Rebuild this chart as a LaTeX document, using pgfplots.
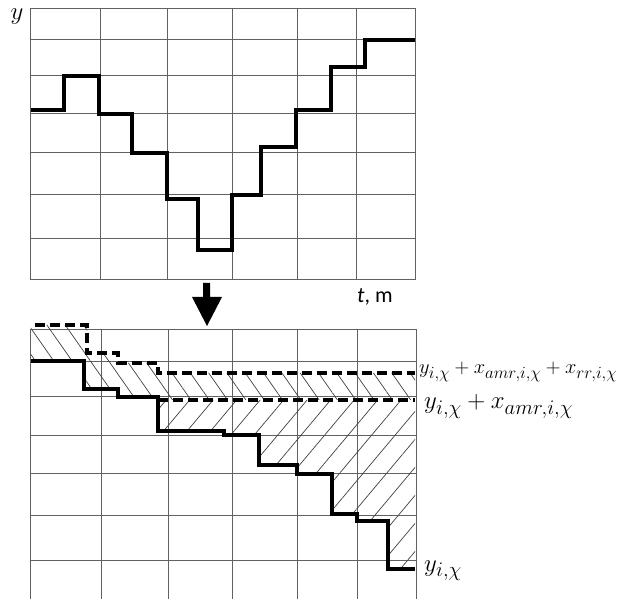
\documentclass[border=0pt]{standalone}
\usepackage{fontspec}
\setsansfont{Carlito}
\usepackage{graphicx}
\usepackage{pgfplots}
\pgfplotsset{compat=1.18}
\usetikzlibrary{patterns.meta}
\definecolor{gridc}{gray}{0.38}
\definecolor{hatchc}{gray}{0.25}
\begin{document}
\begin{tikzpicture}[x=1pt,y=1pt]
\path[use as bounding box] (0pt,0pt) rectangle (622pt,598pt);
\pgfplotsset{
  diag/.style={scale only axis, axis line style={gridc, line width=1pt},
    grid=major, major grid style={gridc, line width=1pt},
    xticklabels={}, yticklabels={}, major tick length=0pt,
    clip=false, anchor=south west},
}
% ---------- top chart ----------
\begin{axis}[diag, at={(31pt,318pt)}, width=384pt, height=271pt,
  xmin=31, xmax=415, ymin=-280, ymax=-9,
  xtick={100,167,232,297,356}, ytick={-239,-195,-153,-114,-76,-40}]
\addplot[const plot, line width=3.5pt, black] coordinates {
 (31,-110) (64,-76) (99,-114) (132,-153) (167,-199) (198,-250)
 (232,-195) (261,-147) (296,-110) (331,-67) (365,-40) (415,-40)};
\node[anchor=base] at (axis cs:17,-20) {\Huge $y$};
\node[anchor=base west, inner sep=0pt] at (axis cs:357,-303) {\fontsize{22}{26}\selectfont\sffamily\itshape t\upshape, m};
\end{axis}
% ---------- bottom chart ----------
\begin{axis}[diag, at={(31pt,-7pt)}, width=385pt, height=275pt,
  xmin=31, xmax=416, ymin=-605, ymax=-330,
  xtick={101,168,232,297,357}, ytick={-560,-516,-474,-436,-397,-362}]
% hatched areas
\addplot[draw=none, pattern={Lines[angle=-55,distance=15pt,line width=0.7pt]}, pattern color=hatchc] coordinates {
 (31,-325) (87,-325) (87,-353) (118,-353) (118,-363) (158,-363) (158,-373)
 (415,-373) (415,-400) (158,-400) (158,-397) (118,-397) (118,-389) (84,-389)
 (84,-361) (31,-361) (31,-325)};
\addplot[draw=none, pattern={Lines[angle=50,distance=18pt,line width=0.7pt]}, pattern color=hatchc] coordinates {
 (158,-400) (415,-400) (415,-569) (388,-569) (388,-521) (357,-521) (357,-514)
 (332,-514) (332,-474) (297,-474) (297,-465) (259,-465) (259,-435) (224,-435)
 (224,-431) (158,-431) (158,-400)};
% step lines
\addplot[const plot, line width=3.5pt, black] coordinates {
 (31,-361) (84,-389) (118,-397) (158,-431) (224,-435) (259,-465)
 (297,-474) (332,-514) (357,-521) (388,-569) (415,-569)};
\addplot[const plot, line width=3.5pt, black, dash pattern=on 10pt off 5pt] coordinates {
 (35,-325) (87,-353) (118,-363) (158,-373) (415,-373)};
\addplot[line width=3.5pt, black, dash pattern=on 10pt off 5pt] coordinates {
 (158,-400) (415,-400)};
% arrow
\addplot[fill=black, draw=none] coordinates {
 (203,-283) (210,-283) (210,-297) (222,-297) (207,-326) (192,-297) (203,-297) (203,-283)};
% labels
\node[anchor=base west, inner sep=0pt] at (axis cs:419,-374) {\scalebox{0.82}{\Huge $y_{i,\chi}+x_{amr,i,\chi}+x_{rr,i,\chi}$}};
\node[anchor=base west, inner sep=0pt] at (axis cs:424,-409) {\Huge $y_{i,\chi}+x_{amr,i,\chi}$};
\node[anchor=base west, inner sep=0pt] at (axis cs:424,-571) {\Huge $y_{i,\chi}$};
\end{axis}
\end{tikzpicture}
\end{document}
